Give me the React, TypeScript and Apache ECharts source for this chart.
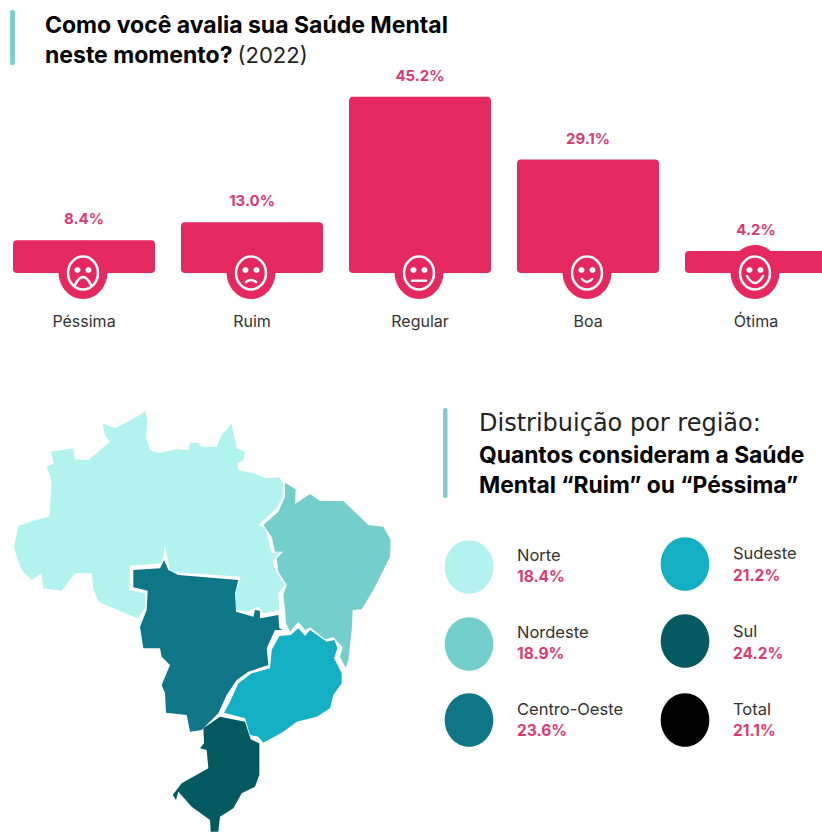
import React, { useEffect, useRef } from "react";
import * as echarts from "echarts";

const FONT = "Inter";
const categories = ["Péssima", "Ruim", "Regular", "Boa", "Ótima"];
const ratings = [8.4, 13.0, 45.2, 29.1, 4.2];
const regions = ["Norte", "Nordeste", "Centro-Oeste", "Sudeste", "Sul", "Total"];
const regionValues = [18.4, 18.9, 23.6, 21.2, 24.2, 21.1];
const regionColors = ["#B2F2EF", "#74CFCC", "#0E7686", "#14AFC2", "#055A62", "#000000"];

const norteOutline = [[42,440],[55,378],[100,362],[148,350],[155,245],[140,200],[162,190],[152,155],[220,145],[225,178],[265,180],[330,125],[315,105],[307,70],[345,85],[420,45],[435,33],[442,60],[438,110],[450,150],[475,160],[530,148],[565,150],[570,130],[595,128],[605,140],[650,140],[665,105],[695,72],[703,110],[710,145],[735,155],[730,180],[712,190],[715,210],[760,220],[800,235],[838,232],[850,250],[848,290],[830,325],[775,375],[795,385],[805,420],[815,460],[840,455],[820,480],[825,510],[855,555],[835,580],[838,630],[790,640],[775,620],[760,625],[745,635],[705,630],[708,570],[722,530],[510,515],[495,435],[485,490],[390,497],[388,570],[435,580],[435,625],[412,655],[340,625],[295,605],[280,565],[275,520],[225,520],[185,572],[130,565],[125,520],[95,540],[65,510],[50,470]];
const nordesteOutline = [[855,248],[887,268],[885,312],[930,282],[960,303],[1030,303],[1105,375],[1150,380],[1172,420],[1170,470],[1120,570],[1085,628],[1058,630],[1055,690],[1045,780],[1037,803],[1020,770],[1028,742],[1000,712],[975,718],[930,682],[915,690],[895,665],[870,695],[858,670],[855,630],[850,585],[860,555],[835,515],[830,475],[850,455],[825,455],[815,410],[790,375],[835,335],[855,290]];
const centroOesteOutline = [[400,510],[480,505],[492,480],[505,510],[535,525],[715,540],[705,580],[708,635],[760,650],[765,630],[780,632],[780,655],[835,645],[838,685],[848,690],[825,690],[800,745],[805,795],[745,815],[710,840],[680,885],[655,940],[605,990],[570,995],[560,945],[498,938],[495,880],[485,855],[510,795],[485,770],[480,745],[430,745],[420,680],[440,630],[443,572],[400,562]];
const sudesteOutline = [[838,708],[872,705],[895,685],[915,708],[930,690],[980,725],[1003,720],[1012,745],[1002,775],[1025,820],[1025,850],[1000,885],[990,925],[950,950],[890,965],[850,995],[790,1028],[775,1010],[750,1005],[735,955],[672,938],[690,905],[715,850],[755,820],[810,805],[815,750]];
const sulOutline = [[660,950],[735,965],[752,1018],[778,1030],[778,1125],[765,1160],[725,1180],[700,1225],[660,1250],[655,1295],[632,1295],[630,1260],[575,1220],[535,1175],[528,1200],[518,1185],[545,1150],[625,1105],[620,1050],[600,1045],[612,1030],[610,985]];
const outlines = [norteOutline, nordesteOutline, centroOesteOutline, sudesteOutline, sulOutline];

const PINK = "#E5285F";
const VALUE_PINK = "#D93A72";
const ACCENT = "#7CD0CF";

const brazilGeo = {
  type: "FeatureCollection",
  features: outlines.map((o, i) => ({
    type: "Feature",
    properties: { name: regions[i] },
    geometry: { type: "Polygon", coordinates: [[...o, o[0]].map(([x, y]) => [x, -y])] },
  })),
};

function face(i: number, cx: number, base: number) {
  const fx = cx - 1;
  const fy = base;
  const white = { stroke: "#fff", fill: "none", lineWidth: 2.5, lineCap: "round" };
  const mouths = [
    { x1: -8, y1: 12, x2: 8, y2: 12, cpy1: -4 },
    { x1: -5, y1: 9, x2: 5, y2: 9, cpy1: 5 },
    { x1: -7, y1: 7.7, x2: 7, y2: 7.7, cpy1: 7.7 },
    { x1: -5, y1: 6, x2: 5, y2: 6, cpy1: 12 },
    { x1: -8, y1: 3, x2: 8, y2: 3, cpy1: 17 },
  ];
  const m = mouths[i];
  return {
    type: "group",
    children: [
      { type: "ellipse", shape: { cx: fx, cy: fy - 1, rx: 24.5, ry: 27 }, style: { fill: PINK } },
      { type: "ellipse", shape: { cx: fx, cy: fy, rx: 15, ry: 16.5 }, style: white },
      { type: "circle", shape: { cx: fx - 5.5, cy: fy - 3, r: 3 }, style: { fill: "#fff" } },
      { type: "circle", shape: { cx: fx + 5.5, cy: fy - 3, r: 3 }, style: { fill: "#fff" } },
      {
        type: "bezierCurve",
        shape: { x1: fx + m.x1, y1: fy + m.y1, x2: fx + m.x2, y2: fy + m.y2, cpx1: fx, cpy1: fy + m.cpy1 },
        style: white,
      },
    ],
  };
}

const legendItems = regions.map((name, i) => {
  const col = i < 3 ? 0 : 1;
  const row = i < 3 ? i : i - 3;
  const ex = col === 0 ? 469 : 685;
  const ey = [[567, 644, 720], [564, 641, 720]][col][row];
  const nameY = [[555, 632, 709], [553, 631, 709]][col][row];
  const valY = [[576, 653, 730], [575, 653, 730]][col][row];
  const tx = col === 0 ? 517 : 733;
  return [
    { type: "ellipse", shape: { cx: ex, cy: ey, rx: 24.3, ry: 26.8 }, style: { fill: regionColors[i] } },
    { type: "text", x: tx, y: nameY, style: { text: name, font: `400 16.5px ${FONT}`, fill: "#333", verticalAlign: "middle" } },
    { type: "text", x: tx, y: valY, style: { text: regionValues[i].toFixed(1) + "%", font: `700 15.5px ${FONT}`, fill: VALUE_PINK, verticalAlign: "middle" } },
  ];
}).flat();

export default function App() {
  const ref = useRef<HTMLDivElement>(null);
  useEffect(() => {
    document.body.style.margin = "0";
    document.body.style.background = "#fff";
    echarts.registerMap("brasil", brazilGeo as any);
    const chart = echarts.init(ref.current!, null, { renderer: "svg" });
    chart.setOption({
      animation: false,
      backgroundColor: "#fff",
      title: {
        left: 45,
        top: 10,
        padding: 0,
        text: "{b|Como você avalia sua Saúde Mental}\n{b|neste momento?} {r|(2022)}",
        textStyle: {
          rich: {
            b: { fontFamily: FONT, fontWeight: 700, fontSize: 23, color: "#000", lineHeight: 30 },
            r: { fontFamily: FONT, fontWeight: 400, fontSize: 22, color: "#222", lineHeight: 30 },
          },
        },
      },
      grid: { left: 0, top: 39, width: 840, height: 234, outerBoundsMode: "none", containLabel: false },
      xAxis: {
        type: "category",
        data: categories,
        axisLine: { show: false },
        axisTick: { show: false },
        axisLabel: { color: "#333", fontFamily: FONT, fontSize: 16, margin: 40, interval: 0 },
      },
      yAxis: { type: "value", min: 0, max: 60, show: false },
      series: [
        {
          type: "bar",
          data: ratings,
          barWidth: 142,
          barMinHeight: 22,
          itemStyle: { color: PINK, borderRadius: 4 },
          label: {
            show: true,
            position: "top",
            distance: 14,
            formatter: (p: any) => p.value.toFixed(1) + "%",
            color: VALUE_PINK,
            fontFamily: FONT,
            fontWeight: 700,
            fontSize: 15,
          },
        },
        {
          type: "custom",
          data: categories.map((c) => [c, 0]),
          z: 5,
          silent: true,
          renderItem: (params: any, api: any) => {
            const p = api.coord([params.dataIndex, 0]);
            return face(params.dataIndex, p[0], p[1]);
          },
        },
        {
          type: "map",
          map: "brasil",
          aspectScale: 1,
          left: 14,
          top: 411,
          width: 376.7,
          height: 420.7,
          roam: false,
          silent: true,
          label: { show: false },
          emphasis: { disabled: true },
          itemStyle: { borderWidth: 0 },
          data: regions.slice(0, 5).map((name, i) => ({
            name,
            value: regionValues[i],
            itemStyle: { areaColor: regionColors[i], borderWidth: 0 },
          })),
        },
      ],
      graphic: [
        { type: "rect", shape: { x: 10, y: 10, width: 5, height: 55, r: 2 }, style: { fill: ACCENT } },
        { type: "rect", shape: { x: 443, y: 408, width: 4.5, height: 90, r: 2 }, style: { fill: ACCENT } },
        { type: "text", x: 479, y: 423, style: { text: "Distribuição por região:", font: `400 24px "DejaVu Sans"`, fill: "#222", verticalAlign: "middle" } },
        { type: "text", x: 479, y: 454, style: { text: "Quantos consideram a Saúde", font: `700 22.8px ${FONT}`, fill: "#000", verticalAlign: "middle" } },
        { type: "text", x: 479, y: 484, style: { text: "Mental “Ruim” ou “Péssima”", font: `700 22.8px ${FONT}`, fill: "#000", verticalAlign: "middle" } },
        ...legendItems,
      ],
    });
    return () => chart.dispose();
  }, []);
  return <div ref={ref} style={{ position: "absolute", left: 0, top: 0, width: 822, height: 832 }} />;
}
